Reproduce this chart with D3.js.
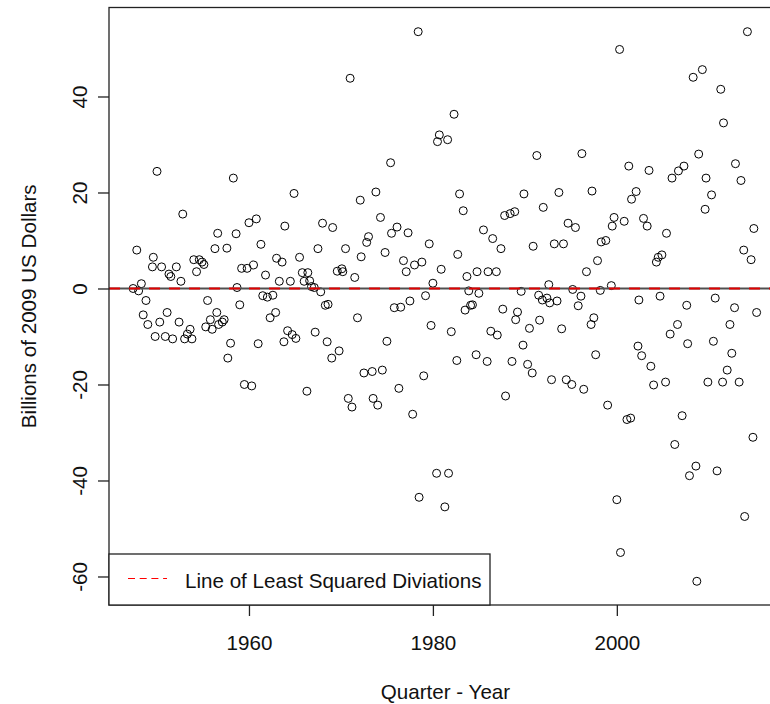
<!DOCTYPE html>
<html><head><meta charset="utf-8">
<script src="https://cdn.jsdelivr.net/npm/d3@7"></script>
<style>
html,body{margin:0;padding:0;background:#fff;}
svg{display:block;font-family:"Liberation Sans",Arial,sans-serif;}
</style>
</head><body>
<svg id="chart" width="770" height="704"></svg>
<script>
// Quarter (decimal year) of each residual
const years = [
1947.4,1947.8,1948.0,1948.3,1948.5,1948.8,1949.0,1949.5,1949.6,1949.8,
1950.0,1950.3,1950.5,1950.9,1951.1,1951.3,1951.5,1951.7,1952.1,1952.4,
1952.6,1952.8,1953.0,1953.3,1953.6,1953.8,1954.0,1954.3,1954.6,1954.9,
1955.1,1955.3,1955.5,1955.8,1956.0,1956.3,1956.5,1956.6,1956.7,1957.1,
1957.3,1957.6,1957.7,1958.0,1958.3,1958.6,1958.7,1959.0,1959.2,1959.5,
1959.8,1960.0,1960.3,1960.5,1960.8,1961.0,1961.3,1961.5,1961.8,1962.0,
1962.3,1962.6,1962.9,1963.0,1963.3,1963.6,1963.8,1963.9,1964.2,1964.5,
1964.7,1964.9,1965.1,1965.5,1965.8,1966.0,1966.3,1966.4,1966.6,1966.8,
1967.1,1967.2,1967.5,1967.8,1968.0,1968.3,1968.5,1968.6,1969.0,1969.1,
1969.6,1969.8,1970.1,1970.2,1970.5,1970.8,1971.0,1971.2,1971.5,1971.8,
1972.1,1972.2,1972.5,1972.8,1973.0,1973.4,1973.5,1973.8,1974.0,1974.3,
1974.5,1974.8,1975.0,1975.4,1975.5,1975.8,1976.1,1976.3,1976.5,1976.8,
1977.1,1977.3,1977.5,1977.8,1978.0,1978.4,1978.5,1978.8,1979.0,1979.2,
1979.6,1979.8,1980.0,1980.4,1980.5,1980.7,1980.9,1981.3,1981.6,1981.7,
1982.0,1982.3,1982.6,1982.7,1982.9,1983.3,1983.5,1983.7,1983.9,1984.1,
1984.3,1984.7,1984.8,1985.0,1985.5,1985.9,1986.0,1986.3,1986.5,1986.9,
1987.0,1987.4,1987.6,1987.8,1987.9,1988.4,1988.6,1988.9,1989.0,1989.2,
1989.6,1989.8,1989.9,1990.3,1990.5,1990.8,1990.9,1991.3,1991.5,1991.6,
1991.9,1992.0,1992.4,1992.6,1992.7,1992.9,1993.2,1993.5,1993.7,1994.0,
1994.2,1994.5,1994.7,1995.1,1995.2,1995.5,1995.8,1996.1,1996.2,1996.4,
1996.7,1997.2,1997.3,1997.5,1997.7,1997.9,1998.2,1998.3,1998.8,1999.0,
1999.4,1999.5,1999.7,2000.0,2000.3,2000.4,2000.8,2001.1,2001.3,2001.5,
2001.6,2002.1,2002.3,2002.4,2002.7,2002.9,2003.3,2003.5,2003.7,2004.0,
2004.3,2004.5,2004.7,2004.9,2005.3,2005.4,2005.8,2006.0,2006.3,2006.6,
2006.7,2007.1,2007.3,2007.6,2007.7,2007.9,2008.3,2008.6,2008.7,2008.9,
2009.3,2009.6,2009.7,2009.9,2010.3,2010.5,2010.7,2010.9,2011.3,2011.5,
2011.6,2012.0,2012.3,2012.5,2012.8,2012.9,2013.3,2013.5,2013.8,2013.9,
2014.2,2014.6,2014.8,2014.9,2015.2
];
// Residuals, billions of 2009 US dollars
const values = [
0,8,-0.5,1,-5.5,-2.5,-7.5,4.5,6.5,-10,
24.4,-7,4.5,-10,-5,3,2.5,-10.5,4.5,-7,
1.5,15.5,-10.5,-9.5,-8.5,-10.5,6,3.5,6,5.5,
5,-8,-2.5,-6.5,-8.5,8.3,-5,11.5,-7.5,-7,
-6.5,8.4,-14.5,-11.4,23,11.4,0.2,-3.4,4.2,-20,
4.2,13.7,-20.3,4.9,14.5,-11.5,9.2,-1.5,2.8,-1.8,
-6.1,-1.4,-5,6.3,1.5,5.5,-11.1,13,-8.8,1.5,
-9.6,19.8,-10.4,6.5,3.3,1.5,-21.4,3.3,1.6,0.4,
0.2,-9.1,8.3,-0.7,13.6,-3.5,-11.1,-3.3,-14.5,12.7,
3.6,-13,4.1,3.5,8.3,-22.9,43.8,-24.7,2.3,-6.1,
18.4,6.6,-17.6,9.6,10.8,-17.3,-22.9,20.1,-24.3,14.8,
-17,7.5,-11,26.2,11.5,-4,12.8,-20.8,-3.9,5.8,
3.5,11.6,-2.6,-26.2,4.9,53.5,-43.5,5.5,-18.2,-1.5,
9.3,-7.7,1.1,-38.5,30.6,32,4,-45.5,31,-38.5,
-9,36.3,-15,7.1,19.7,16.2,-4.5,2.5,-0.5,-3.5,
-3.4,-13.8,3.5,-1,12.2,-15.2,3.5,-8.9,10.4,3.5,
-9.7,8.3,-4.3,15.2,-22.4,15.6,-15.2,16,-6.5,-4.9,
-0.6,-11.8,19.7,-15.8,-8.3,-17.6,8.8,27.7,-1.4,-6.6,
-2.4,16.9,-2,0.8,-3,-19,9.3,-2.6,20,-8.4,
9.3,-19,13.6,-20,-0.2,12.7,-3.6,-1.6,28.1,-21,
3.5,-7.5,20.3,-6.1,-13.8,5.8,-0.4,9.7,10,-24.3,
0.6,13,14.8,-44,49.8,-55,14,-27.3,25.5,-27,
18.6,20.2,-12,-2.4,-14,14.6,13,24.6,-16.2,-20.1,
5.5,6.5,-1.6,7,-19.5,11.5,-9.5,23,-32.5,-7.5,
24.5,-26.5,25.5,-3.5,-11.5,-39,44,-37,-61,28,
45.6,16.5,23,-19.5,19.5,-11,-2,-38,41.5,-19.5,
34.5,-17,-7.5,-13.5,-4,26,-19.5,22.5,8,-47.5,
53.5,6,-31,12.5,-5
];
const xTicks = [1960, 1980, 2000];
const yTicks = [-60, -40, -20, 0, 20, 40];
const fitIntercept = 0;      // least squares line of the residuals
const fitSlope = 0;
const legendLabel = "Line of Least Squared Diviations";
const xTitle = "Quarter - Year";
const yTitle = "Billions of 2009 US Dollars";

const svg = d3.select("#chart");
const plot = {left: 109, right: 782, top: 7.5, bottom: 605};
const x = d3.scaleLinear().domain([1944.78, 2017.96]).range([plot.left, plot.right]);
const y = d3.scaleLinear().domain([-65.94, 58.54]).range([plot.bottom, plot.top]);
const FS = 20.6;
const ink = "#111";
const fmt = d => String(d);

// points
svg.append("g").selectAll("circle")
  .data(years.map((yr, i) => ({yr, v: values[i]})))
  .join("circle")
  .attr("cx", d => x(d.yr)).attr("cy", d => y(d.v))
  .attr("r", 4).attr("fill", "none").attr("stroke", "#000").attr("stroke-width", 1);

// horizontal zero reference and fitted line
const [x0, x1] = x.domain();
svg.append("line")
  .attr("x1", plot.left).attr("x2", plot.right)
  .attr("y1", y(0)).attr("y2", y(0))
  .attr("stroke", "#505050").attr("stroke-width", 2);
svg.append("line")
  .attr("x1", x(x0)).attr("x2", x(x1))
  .attr("y1", y(fitIntercept + fitSlope * x0)).attr("y2", y(fitIntercept + fitSlope * x1))
  .attr("stroke", "#e00000").attr("stroke-width", 2).attr("stroke-dasharray", "11,9");

// box
svg.append("rect")
  .attr("x", plot.left).attr("y", plot.top)
  .attr("width", plot.right - plot.left).attr("height", plot.bottom - plot.top)
  .attr("fill", "none").attr("stroke", "#222").attr("stroke-width", 1.3);

// x axis
const gx = svg.append("g").attr("transform", `translate(0,${plot.bottom})`)
  .call(d3.axisBottom(x).tickValues(xTicks).tickFormat(fmt).tickSize(11).tickPadding(19.5));
gx.select(".domain").remove();
gx.selectAll("line").attr("stroke", "#222").attr("stroke-width", 1.3);
gx.selectAll("text").attr("font-size", FS).attr("fill", ink).attr("font-family", "Liberation Sans, Arial, sans-serif");

// y axis
const gy = svg.append("g").attr("transform", `translate(${plot.left},0)`)
  .call(d3.axisLeft(y).tickValues(yTicks).tickFormat(fmt).tickSize(11));
gy.select(".domain").remove();
gy.selectAll("line").attr("stroke", "#222").attr("stroke-width", 1.3);
gy.selectAll("text")
  .attr("x", null).attr("dy", "0.36em")
  .attr("text-anchor", "middle")
  .attr("transform", "translate(-29,0) rotate(-90)")
  .attr("font-size", FS).attr("fill", ink).attr("font-family", "Liberation Sans, Arial, sans-serif");

// titles
svg.append("text")
  .attr("x", (plot.left + plot.right) / 2).attr("y", 699)
  .attr("text-anchor", "middle").attr("font-size", FS).attr("fill", ink)
  .text(xTitle);
svg.append("text")
  .attr("transform", `translate(29,${(plot.top + plot.bottom) / 2}) rotate(-90)`)
  .attr("dy", "0.36em")
  .attr("text-anchor", "middle").attr("font-size", FS).attr("fill", ink)
  .text(yTitle);

// legend
const lg = svg.append("g");
lg.append("rect")
  .attr("x", plot.left).attr("y", 554)
  .attr("width", 381).attr("height", plot.bottom - 554)
  .attr("fill", "#fff").attr("stroke", "#222").attr("stroke-width", 1.3);
lg.append("line")
  .attr("x1", 128).attr("x2", 167).attr("y1", 578.5).attr("y2", 578.5)
  .attr("stroke", "#ff0000").attr("stroke-width", 1).attr("stroke-dasharray", "7,4.7");
lg.append("text")
  .attr("x", 185).attr("y", 588)
  .attr("font-size", FS).attr("fill", ink)
  .text(legendLabel);
</script>
</body></html>
